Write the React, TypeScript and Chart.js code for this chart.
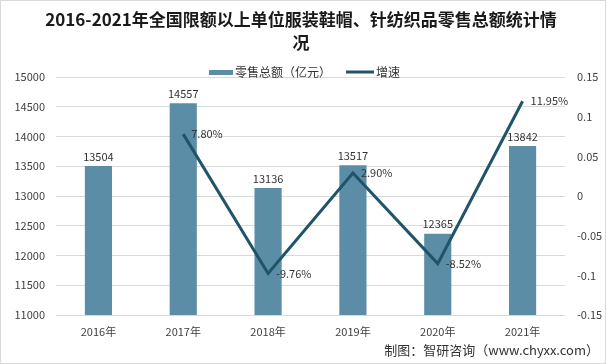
import React, { useEffect, useRef } from "react";
import { Chart, registerables } from "chart.js";

Chart.register(...registerables);

const categories = ["2016年", "2017年", "2018年", "2019年", "2020年", "2021年"];
const salesValues = [13504, 14557, 13136, 13517, 12365, 13842];
const growthValues: (number | null)[] = [null, 0.078, -0.0976, 0.029, -0.0852, 0.1195];
const growthLabels = ["", "7.80%", "-9.76%", "2.90%", "-8.52%", "11.95%"];
const titleLines = ["2016-2021年全国限额以上单位服装鞋帽、针纺织品零售总额统计情", "况"];
const legendBar = "零售总额（亿元）";
const legendLine = "增速";
const sourceText = "制图：智研咨询（www.chyxx.com）";

const BAR_COLOR = "#5B8DA6";
const LINE_COLOR = "#1F5469";
const FONT = "'Noto Sans CJK SC', 'Noto Sans', sans-serif";

const decorPlugin = {
  id: "decor",
  beforeDraw(chart: any) {
    const ctx = chart.ctx;
    ctx.save();
    ctx.fillStyle = "#ffffff";
    ctx.fillRect(0, 0, chart.width, chart.height);
    ctx.strokeStyle = "#d9d9d9";
    ctx.lineWidth = 1;
    ctx.strokeRect(0.5, 0.5, chart.width - 1, chart.height - 1);
    ctx.restore();
  },
  afterDraw(chart: any) {
    const ctx = chart.ctx;
    ctx.save();
    // title
    ctx.fillStyle = "#1a1a1a";
    ctx.font = `bold 17px ${FONT}`;
    ctx.textAlign = "center";
    ctx.textBaseline = "middle";
    ctx.fillText(titleLines[0], 301, 20);
    ctx.fillText(titleLines[1], 301, 43);
    // legend
    ctx.fillStyle = BAR_COLOR;
    ctx.fillRect(209, 70, 24, 5);
    ctx.font = `12px ${FONT}`;
    ctx.textAlign = "left";
    ctx.fillStyle = "#333333";
    ctx.fillText(legendBar, 235, 72);
    ctx.strokeStyle = LINE_COLOR;
    ctx.lineWidth = 3;
    ctx.beginPath();
    ctx.moveTo(346, 72);
    ctx.lineTo(374, 72);
    ctx.stroke();
    ctx.fillStyle = "#333333";
    ctx.fillText(legendLine, 376, 72);
    // source
    ctx.font = `13px ${FONT}`;
    ctx.textAlign = "right";
    ctx.fillStyle = "#333333";
    ctx.fillText(sourceText, 599, 350);
    ctx.restore();
  },
  afterDatasetsDraw(chart: any) {
    const ctx = chart.ctx;
    ctx.save();
    ctx.font = `11px ${FONT}`;
    ctx.fillStyle = "#333333";
    const barMeta = chart.getDatasetMeta(0);
    ctx.textAlign = "center";
    ctx.textBaseline = "bottom";
    barMeta.data.forEach((el: any, i: number) => {
      ctx.fillText(String(salesValues[i]), el.x, el.y - 4);
    });
    const lineMeta = chart.getDatasetMeta(1);
    ctx.textAlign = "left";
    ctx.textBaseline = "middle";
    lineMeta.data.forEach((el: any, i: number) => {
      if (growthValues[i] === null) return;
      ctx.fillText(growthLabels[i], el.x + 8, el.y);
    });
    ctx.restore();
  },
};

export default function App() {
  const ref = useRef<HTMLCanvasElement | null>(null);
  useEffect(() => {
    if (!ref.current) return;
    const chart = new Chart(ref.current, {
      data: {
        labels: categories,
        datasets: [
          {
            type: "bar",
            label: legendBar,
            data: salesValues,
            backgroundColor: BAR_COLOR,
            yAxisID: "y",
            barPercentage: 0.32,
            categoryPercentage: 1,
            order: 2,
          },
          {
            type: "line",
            label: legendLine,
            data: growthValues,
            borderColor: LINE_COLOR,
            borderWidth: 3,
            pointRadius: 0,
            tension: 0,
            spanGaps: false,
            yAxisID: "y1",
            order: 1,
          },
        ],
      } as any,
      options: {
        responsive: false,
        animation: false,
        layout: { padding: { top: 77, bottom: 0, left: 0, right: 0 } },
        plugins: {
          legend: { display: false },
          title: { display: false },
          tooltip: { enabled: false },
        },
        scales: {
          x: {
            grid: { display: false, drawTicks: false },
            border: { display: false },
            ticks: { color: "#404040", font: { size: 11, family: FONT }, padding: 10 },
            afterFit(s: any) { s.height = 49; },
          },
          y: {
            position: "left",
            min: 11000,
            max: 15000,
            grid: { color: "#d9d9d9", drawTicks: false },
            border: { display: false },
            ticks: {
              stepSize: 500,
              color: "#404040",
              font: { size: 11, family: FONT },
              padding: 11,
              callback: (v: any) => String(v),
            },
            afterFit(s: any) { s.width = 56; },
          },
          y1: {
            position: "right",
            min: -0.15,
            max: 0.15,
            grid: { display: false, drawTicks: false },
            border: { display: false },
            ticks: {
              stepSize: 0.05,
              color: "#404040",
              font: { size: 11, family: FONT },
              padding: 12,
              callback: (v: any) => String(Math.round(Number(v) * 100) / 100),
            },
            afterFit(s: any) { s.width = 41; },
          },
        },
      } as any,
      plugins: [decorPlugin],
    });
    return () => chart.destroy();
  }, []);
  return (
    <div style={{ position: "absolute", left: 0, top: 0, width: 606, height: 364 }}>
      <canvas ref={ref} width={606} height={364} style={{ display: "block" }} />
    </div>
  );
}
